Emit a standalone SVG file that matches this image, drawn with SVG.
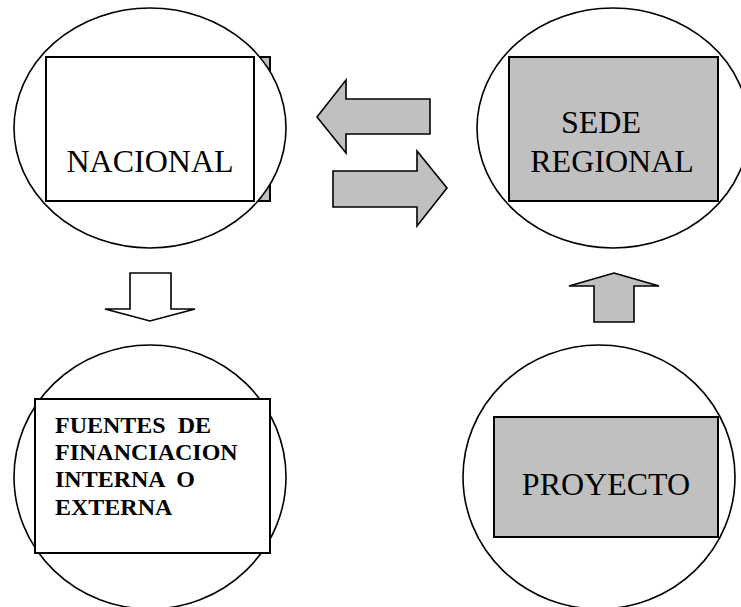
<svg xmlns="http://www.w3.org/2000/svg" width="741" height="607" viewBox="0 0 741 607">
<style>
.ell{fill:#fff;stroke:#000;stroke-width:1.6}
.box{stroke:#000;stroke-width:2}
.w{fill:#fff}
.g{fill:#c0c0c0}
.arr{stroke:#000;stroke-width:1.6;stroke-linejoin:miter}
.lbl{font-family:"Liberation Serif","Times New Roman",serif;font-size:32px;fill:#000}
.bold{font-family:"Liberation Serif","Times New Roman",serif;font-size:24px;font-weight:bold;fill:#000}
</style>
<rect width="741" height="607" fill="#fff"/>
<g id="nacional">
<rect class="box g" x="60" y="57" width="210" height="144"/>
<ellipse class="ell" cx="150" cy="128" rx="136" ry="120"/>
<rect class="box w" x="46" y="57" width="208" height="144"/>
<text class="lbl" x="150" y="172" text-anchor="middle">NACIONAL</text>
</g>
<g id="sede-regional">
<ellipse class="ell" cx="613" cy="128" rx="136" ry="120"/>
<rect class="box g" x="509" y="57" width="209" height="144"/>
<text class="lbl" x="601" y="133" text-anchor="middle">SEDE</text>
<text class="lbl" x="612" y="172" text-anchor="middle">REGIONAL</text>
</g>
<g id="fuentes">
<ellipse class="ell" cx="150" cy="477" rx="136" ry="132"/>
<rect class="box w" x="35" y="399" width="235" height="154"/>
<text class="bold" x="55" y="433" xml:space="preserve">FUENTES  DE</text>
<text class="bold" x="55" y="460">FINANCIACION</text>
<text class="bold" x="55" y="487" xml:space="preserve">INTERNA  O</text>
<text class="bold" x="55" y="515">EXTERNA</text>
</g>
<g id="proyecto">
<ellipse class="ell" cx="599" cy="477" rx="136" ry="132"/>
<rect class="box g" x="494" y="417" width="224" height="120"/>
<text class="lbl" x="606" y="495" text-anchor="middle">PROYECTO</text>
</g>
<g id="connectors">
<polygon class="arr g" points="317,117 346,80 346,99 430,99 430,134 346,134 346,153"/>
<polygon class="arr g" points="447,188 417,151 417,171 333,171 333,207 417,207 417,226"/>
<polygon class="arr w" points="130,273 171,273 171,309 195,309 150,321 105,309 130,309"/>
<polygon class="arr g" points="614,273 659,286 634,286 634,322 594,322 594,286 569,286"/>
</g>
</svg>
